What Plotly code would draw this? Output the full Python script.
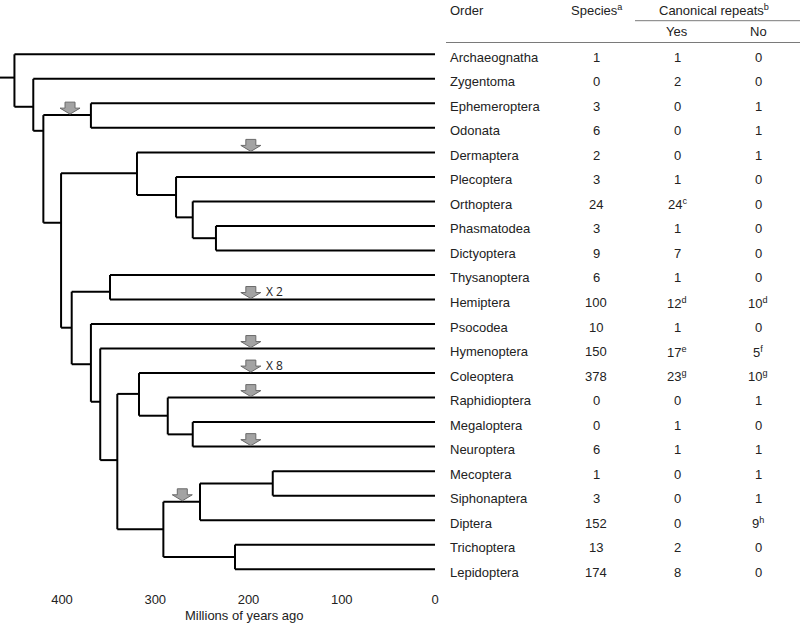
import plotly.graph_objects as go

# ---------------- data ----------------
orders = ["Archaeognatha", "Zygentoma", "Ephemeroptera", "Odonata", "Dermaptera",
          "Plecoptera", "Orthoptera", "Phasmatodea", "Dictyoptera", "Thysanoptera",
          "Hemiptera", "Psocodea", "Hymenoptera", "Coleoptera", "Raphidioptera",
          "Megaloptera", "Neuroptera", "Mecoptera", "Siphonaptera", "Diptera",
          "Trichoptera", "Lepidoptera"]
tip_parent = ["Root", "A", "C", "C", "E", "G", "H", "I", "I", "J", "J", "K", "L",
              "N", "O", "P", "P", "S", "S", "R", "T", "T"]

species = [1, 0, 3, 6, 2, 3, 24, 3, 9, 6, 100, 10, 150, 378, 0, 0, 6, 1, 3, 152, 13, 174]
yes_vals = [1, 2, 0, 0, 0, 1, 24, 1, 7, 1, 12, 1, 17, 23, 0, 1, 1, 0, 0, 0, 2, 8]
yes_sup = ["", "", "", "", "", "", "c", "", "", "", "d", "", "e", "g", "", "", "", "", "", "", "", ""]
no_vals = [0, 0, 1, 1, 1, 0, 0, 0, 0, 0, 10, 0, 5, 10, 1, 0, 1, 1, 1, 9, 0, 0]
no_sup = ["", "", "", "", "", "", "", "", "", "", "d", "", "f", "g", "", "", "", "", "", "h", "", ""]

# internal nodes: name, age (Mya), row position, parent
node_names = ["Root", "A", "B", "C", "D", "E", "G", "H", "I", "F", "J", "K", "L",
              "M", "N", "O", "P", "Q", "R", "S", "T"]
node_age = [451, 430.8, 420, 369, 401, 319.6, 277.7, 259.8, 234.9, 389.6, 348.5, 369,
            359, 340.7, 317.4, 286.6, 259.8, 291.3, 252, 174, 214.5]
node_row = [0.95, 2.14, 3.12, 2.48, 6.87, 4.85, 5.74, 6.65, 7.5, 11.15, 9.68, 12.64,
            14.17, 16.55, 13.85, 14.74, 15.5, 19.37, 18.25, 17.5, 20.5]
node_parent = [None, "Root", "A", "B", "B", "D", "E", "G", "H", "D", "F", "F", "K",
               "L", "M", "N", "O", "M", "Q", "R", "Q"]

# gene-loss arrows: age, branch row, label
arrow_age = [391.4, 197.5, 197.5, 197.5, 197.5, 197.5, 197.5, 271]
arrow_row = [2.48, 4, 10, 12, 13, 14, 16, 18.25]
arrow_label = ["", "", "X 2", "", "X 8", "", "", ""]

tick_vals = [400, 300, 200, 100, 0]
x_title = "Millions of years ago"

# ---------------- geometry helpers ----------------
W, H = 800, 623
PX_PER_MY = 0.9325
TIP_PX = 435
ROW0_PX, ROW_PX = 54.3, 24.52
PLOT_BOTTOM = 583
x_left_age = TIP_PX / PX_PER_MY
y_bottom_row = (PLOT_BOTTOM - ROW0_PX) / ROW_PX
y_top_row = -ROW0_PX / ROW_PX

def row_of_px(py):
    return (py - ROW0_PX) / ROW_PX

# ---------------- tree lines ----------------
age_map = {n: a for n, a in zip(node_names, node_age)}
row_map = {n: r for n, r in zip(node_names, node_row)}
children = {n: [] for n in node_names}
for i, o in enumerate(orders):
    age_map[o] = 0
    row_map[o] = i
    children[tip_parent[i]].append(o)
for n, p in zip(node_names, node_parent):
    if p is not None:
        children[p].append(n)
parent_of = dict(zip(node_names, node_parent))
parent_of.update(dict(zip(orders, tip_parent)))

xs, ys = [], []
xs += [x_left_age, age_map["Root"], None]
ys += [row_map["Root"], row_map["Root"], None]
for n in list(node_names) + orders:
    p = parent_of[n]
    if p is not None:
        xs += [age_map[p], age_map[n], None]
        ys += [row_map[n], row_map[n], None]
for n in node_names:
    rows = [row_map[c] for c in children[n]]
    xs += [age_map[n], age_map[n], None]
    ys += [min(rows), max(rows), None]

fig = go.Figure()
fig.add_trace(go.Scatter(x=xs, y=ys, mode="lines",
                         line=dict(color="black", width=2),
                         hoverinfo="skip", showlegend=False))

# ---------------- arrows ----------------
shape_px = [(-5, -12), (5, -12), (5, -6), (10, -6), (0, 0), (-10, -6), (-5, -6), (-5, -12)]
for a, r, lab in zip(arrow_age, arrow_row, arrow_label):
    ax = [a - dx / PX_PER_MY for dx, dy in shape_px]
    ay = [r - 0.04 + dy / ROW_PX for dx, dy in shape_px]
    fig.add_trace(go.Scatter(x=ax, y=ay, mode="lines", fill="toself",
                             fillcolor="#a3a3a3", line=dict(color="#6a6a6a", width=1),
                             hoverinfo="skip", showlegend=False))
    if lab:
        fig.add_annotation(x=a - 13 / PX_PER_MY, y=r, yshift=8, text=lab,
                           showarrow=False, xanchor="left", yanchor="middle",
                           font=dict(size=12, color="#222", family="Open Sans"))

# ---------------- table ----------------
FONT = dict(size=13, color="#222", family="Liberation Sans, Arial")
col_order, col_sp, col_yes, col_no = 448, 596, 677, 758

def txt(x_px, row, text, anchor="center", yshift=-3):
    fig.add_annotation(xref="paper", x=x_px / W, yref="y", y=row, yshift=yshift,
                       text=text, showarrow=False, xanchor=anchor, yanchor="middle",
                       font=FONT)

for i, o in enumerate(orders):
    txt(col_order, i, o, anchor="left")
    txt(col_sp, i, str(species[i]))
    txt(col_yes, i, str(yes_vals[i]) + (f"<sup>{yes_sup[i]}</sup>" if yes_sup[i] else ""))
    txt(col_no, i, str(no_vals[i]) + (f"<sup>{no_sup[i]}</sup>" if no_sup[i] else ""))

hdr_row = row_of_px(10)
sub_row = row_of_px(31.5)
txt(col_order, hdr_row, "Order", anchor="left", yshift=0)
txt(597, hdr_row, "Species<sup>a</sup>", yshift=0)
txt(714, hdr_row, "Canonical repeats<sup>b</sup>", yshift=0)
txt(col_yes, sub_row, "Yes", yshift=0)
txt(col_no, sub_row, "No", yshift=0)

fig.add_shape(type="line", xref="paper", yref="y", x0=635 / W, x1=1, y0=row_of_px(20.7),
              y1=row_of_px(20.7), line=dict(color="#7a7a7a", width=1))
fig.add_shape(type="line", xref="paper", yref="y", x0=446 / W, x1=1, y0=row_of_px(42.5),
              y1=row_of_px(42.5), line=dict(color="#7a7a7a", width=1))

fig.add_annotation(xref="paper", x=244 / W, yref="paper", y=1 - 615 / PLOT_BOTTOM,
                   text=x_title, showarrow=False, xanchor="center", yanchor="middle",
                   font=FONT)

fig.update_layout(
    width=W, height=H, margin=dict(l=0, r=0, t=0, b=H - PLOT_BOTTOM, autoexpand=False),
    plot_bgcolor="white", paper_bgcolor="white",
    xaxis=dict(range=[x_left_age, 0], domain=[0, TIP_PX / W], showgrid=False,
               zeroline=False, showline=False, tickvals=tick_vals,
               ticks="outside", ticklen=4, tickcolor="rgba(0,0,0,0)",
               tickfont=FONT, fixedrange=True),
    yaxis=dict(range=[y_bottom_row, y_top_row], visible=False, fixedrange=True),
    font=FONT,
)

post = ("document.body.style.margin='0px';document.body.style.overflow='hidden';"
        "var d=document.getElementById('{plot_id}');d.style.position='fixed';"
        "d.style.left='0px';d.style.top='0px';")
fig.write_html("out.html", post_script=post, config={"displayModeBar": False})
